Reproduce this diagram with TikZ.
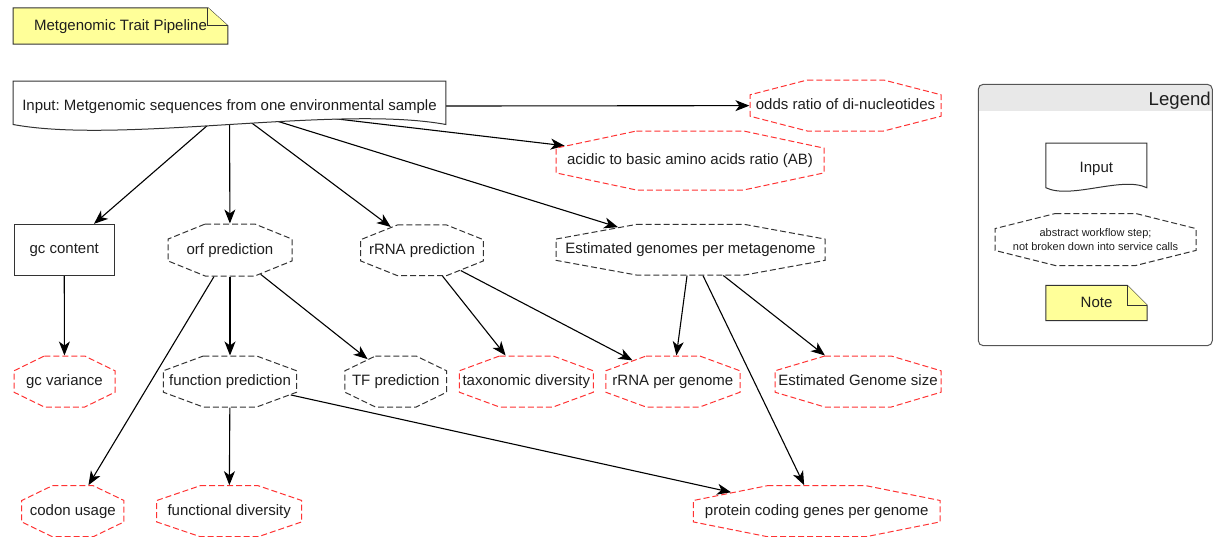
\documentclass[tikz,border=0pt]{standalone}
\usepackage{fontspec}
\setmainfont{Liberation Sans}
\usetikzlibrary{arrows.meta,calc,backgrounds}

\definecolor{outred}{RGB}{255,51,51}
\definecolor{stepgray}{RGB}{51,51,51}
\definecolor{notefill}{RGB}{255,255,153}
\definecolor{legendhead}{RGB}{232,232,232}
\definecolor{legendline}{RGB}{85,85,85}
\definecolor{textdark}{RGB}{30,30,30}

% Octagon node whose corners are cut by 30% of the width and 29% of the height
\makeatletter
\pgfdeclareshape{octbox}{%
  \inheritsavedanchors[from=rectangle]%
  \inheritanchor[from=rectangle]{center}%
  \inheritanchor[from=rectangle]{north}%
  \inheritanchor[from=rectangle]{south}%
  \inheritanchor[from=rectangle]{east}%
  \inheritanchor[from=rectangle]{west}%
  \inheritanchor[from=rectangle]{north east}%
  \inheritanchor[from=rectangle]{north west}%
  \inheritanchor[from=rectangle]{south east}%
  \inheritanchor[from=rectangle]{south west}%
  \inheritanchor[from=rectangle]{base}%
  \backgroundpath{%
    \southwest \pgf@xa=\pgf@x \pgf@ya=\pgf@y
    \northeast \pgf@xb=\pgf@x \pgf@yb=\pgf@y
    \pgfmathsetlength\pgf@xc{\pgfkeysvalueof{/pgf/outer xsep}}%
    \pgfmathsetlength\pgf@yc{\pgfkeysvalueof{/pgf/outer ysep}}%
    \advance\pgf@xa by\pgf@xc \advance\pgf@xb by-\pgf@xc
    \advance\pgf@ya by\pgf@yc \advance\pgf@yb by-\pgf@yc
    \edef\oct@xl{\the\pgf@xa}\edef\oct@xr{\the\pgf@xb}%
    \edef\oct@yl{\the\pgf@ya}\edef\oct@yh{\the\pgf@yb}%
    \pgfmathsetmacro\oct@cx{0.3*(\oct@xr-\oct@xl)}%
    \pgfmathsetmacro\oct@cy{0.29*(\oct@yh-\oct@yl)}%
    \pgfpathmoveto{\pgfpoint{\oct@xl+\oct@cx pt}{\oct@yh}}%
    \pgfpathlineto{\pgfpoint{\oct@xr-\oct@cx pt}{\oct@yh}}%
    \pgfpathlineto{\pgfpoint{\oct@xr}{\oct@yh-\oct@cy pt}}%
    \pgfpathlineto{\pgfpoint{\oct@xr}{\oct@yl+\oct@cy pt}}%
    \pgfpathlineto{\pgfpoint{\oct@xr-\oct@cx pt}{\oct@yl}}%
    \pgfpathlineto{\pgfpoint{\oct@xl+\oct@cx pt}{\oct@yl}}%
    \pgfpathlineto{\pgfpoint{\oct@xl}{\oct@yl+\oct@cy pt}}%
    \pgfpathlineto{\pgfpoint{\oct@xl}{\oct@yh-\oct@cy pt}}%
    \pgfpathclose
  }%
  \anchorborder{%
    \edef\oct@dx{\the\pgf@x}\edef\oct@dy{\the\pgf@y}%
    \southwest \pgf@xa=\pgf@x \pgf@ya=\pgf@y
    \northeast \pgf@xb=\pgf@x \pgf@yb=\pgf@y
    \edef\oct@xl{\the\pgf@xa}\edef\oct@xr{\the\pgf@xb}%
    \edef\oct@yl{\the\pgf@ya}\edef\oct@yh{\the\pgf@yb}%
    \pgfmathsetmacro\oct@a{(\oct@xr-\oct@xl)/2}%
    \pgfmathsetmacro\oct@b{(\oct@yh-\oct@yl)/2}%
    \pgfmathsetmacro\oct@mx{(\oct@xr+\oct@xl)/2}%
    \pgfmathsetmacro\oct@my{(\oct@yh+\oct@yl)/2}%
    \pgfmathsetmacro\oct@cx{0.6*\oct@a}%
    \pgfmathsetmacro\oct@cy{0.58*\oct@b}%
    \pgfmathsetmacro\oct@L{abs(\oct@dx)+abs(\oct@dy)}%
    \ifdim\oct@L pt<0.0001pt
      \edef\oct@px{\oct@mx}\edef\oct@py{\oct@my}%
    \else
      \pgfmathsetmacro\oct@ux{\oct@dx/\oct@L}%
      \pgfmathsetmacro\oct@uy{\oct@dy/\oct@L}%
      \pgfmathsetmacro\oct@s{max(abs(\oct@ux)/\oct@a, abs(\oct@uy)/\oct@b,
        (abs(\oct@ux)/\oct@cx+abs(\oct@uy)/\oct@cy)/(\oct@a/\oct@cx+\oct@b/\oct@cy-1))}%
      \pgfmathsetmacro\oct@px{\oct@mx+\oct@ux/\oct@s}%
      \pgfmathsetmacro\oct@py{\oct@my+\oct@uy/\oct@s}%
    \fi
    \pgf@x=\oct@px pt
    \pgf@y=\oct@py pt
  }%
}
\makeatother

\frenchspacing
\begin{document}
\begin{tikzpicture}[x=1pt,y=-1pt,
  every node/.style={font=\fontsize{15}{18}\selectfont, inner sep=0pt, text=textdark,
    text height=11.5pt, text depth=3pt},
  octo/.style 2 args={shape=octbox, minimum width=#1pt, minimum height=#2pt},
  boxsize/.style 2 args={shape=rectangle, minimum width=#1pt, minimum height=#2pt},
  stepbox/.style={draw=stepgray, line width=1pt, dash pattern=on 6pt off 3pt},
  outbox/.style={draw=outred, line width=1pt, dash pattern=on 6pt off 3pt},
  solidbox/.style={draw=stepgray, line width=1pt},
  notebox/.style={fill=notefill, draw=stepgray, line width=1pt},
  docbox/.style={fill=white, draw=stepgray, line width=1pt},
  flow/.style={draw=black, line width=1.1pt, -{Stealth[length=14pt,width=11pt,inset=4pt]}},
  smalltext/.style={font=\fontsize{11}{14.5}\selectfont, align=center, text height={}, text depth={}},
]
\useasboundingbox (0,0) rectangle (1215,536);

% title note
\node[boxsize={214.4}{36}] (title) at (120.5,26) {Metgenomic Trait Pipeline};

% pipeline nodes
\node[boxsize={432.5}{50}] (input) at (229.5,106.3) {Input: Metgenomic sequences from one environmental sample};
\node[octo={191}{51}, outbox] (odds) at (845.5,105.5) {odds ratio of di-nucleotides};
\node[octo={268}{59}, outbox] (acidic) at (690,160.5) {acidic to basic amino acids ratio (AB)};
\node[boxsize={100.3}{50.7}, solidbox] (gccont) at (64.2,249.7) {gc content};
\node[octo={124}{52}, stepbox] (orf) at (230,250) {orf prediction};
\node[octo={122.6}{50.7}, stepbox] (rrnap) at (422,250.3) {rRNA prediction};
\node[octo={269}{50.7}, stepbox] (estg) at (690.5,249.7) {Estimated genomes per metagenome};
\node[octo={101}{51}, outbox] (gcvar) at (64.5,381.5) {gc variance};
\node[octo={133.4}{51}, stepbox] (funcp) at (230,381.5) {function prediction};
\node[octo={101.7}{51}, stepbox] (tfp) at (395.8,381.5) {TF prediction};
\node[octo={134}{51}, outbox] (taxd) at (526.3,381.5) {taxonomic diversity};
\node[octo={134.3}{51}, outbox] (rrnag) at (672.9,381.5) {rRNA per genome};
\node[octo={166}{51}, outbox] (egs) at (858,381.5) {Estimated Genome size};
\node[octo={102.3}{51}, outbox] (codon) at (72.8,511.2) {codon usage};
\node[octo={145}{51}, outbox] (funcd) at (229.2,511.2) {functional diversity};
\node[octo={246.7}{51}, outbox] (protein) at (816.7,511.2) {protein coding genes per genome};

% legend
\node[draw=legendline, line width=1pt, rounded corners=5pt, boxsize={234}{261.4}] (legend) at (1095.3,215) {};
\node[anchor=east, font=\fontsize{18.6}{22}\selectfont, text height=14pt, text depth=4pt] (legendtitle) at (1211,100.7) {Legend};
\node[boxsize={100.7}{50.7}] (legin) at (1096.4,168.7) {Input};
\node[octo={201}{52}, stepbox, smalltext] (legstep) at (1095.5,239.5) {abstract workflow step;\\not broken down into service calls};
\node[boxsize={101}{35}] (legnote) at (1096.5,303) {Note};

\begin{pgfonlayer}{background}
  % legend header band
  \begin{scope}
    \clip[rounded corners=5pt] (legend.north west) rectangle (legend.south east);
    \fill[legendhead] (legend.north west) rectangle ($(legend.north east)+(0,27.4)$);
  \end{scope}

  % note shapes with folded corner
  \path[notebox] (title.north west) -- ($(title.north east)+(-20,0)$) -- ($(title.north east)+(0,18)$)
    -- (title.south east) -- (title.south west) -- cycle;
  \path[notebox] ($(title.north east)+(-20,0)$) -- ($(title.north east)+(-20,18)$) -- ($(title.north east)+(0,18)$);
  \path[notebox] (legnote.north west) -- ($(legnote.north east)+(-20,0)$) -- ($(legnote.north east)+(0,20)$)
    -- (legnote.south east) -- (legnote.south west) -- cycle;
  \path[notebox] ($(legnote.north east)+(-20,0)$) -- ($(legnote.north east)+(-20,20)$) -- ($(legnote.north east)+(0,20)$);

  % connectors
  \draw[flow] (input.center) -- (odds);
  \draw[flow] (input.center) -- (acidic);
  \draw[flow] (input.center) -- (gccont);
  \draw[flow] (input.center) -- (orf);
  \draw[flow] (input.center) -- (rrnap);
  \draw[flow] (input.center) -- (estg);
  \draw[flow] (gccont) -- (gcvar);
  \draw[flow] (orf) -- (funcp);
  \draw[flow] (orf) -- (codon);
  \draw[flow] (orf) -- (tfp);
  \draw[flow] (rrnap) -- (taxd);
  \draw[flow] (rrnap) -- (rrnag);
  \draw[flow] (estg) -- (rrnag);
  \draw[flow] (estg) -- (protein);
  \draw[flow] (estg) -- (egs);
  \draw[flow] (funcp) -- (funcd);
  \draw[flow] (funcp) -- (protein);

  % document shapes with wavy bottom edge
  \path[docbox] (input.north west) -- (input.north east) -- ($(input.south east)+(0,-7)$)
    .. controls ($(input.south east)+(-108,-27)$) and ($(input.south west)+(108,13)$) .. ($(input.south west)+(0,-7)$) -- cycle;
  \path[docbox] (legin.north west) -- (legin.north east) -- ($(legin.south east)+(0,-6.5)$)
    .. controls ($(legin.south east)+(-25,-18.5)$) and ($(legin.south west)+(25,5.5)$) .. ($(legin.south west)+(0,-6.5)$) -- cycle;
\end{pgfonlayer}
\end{tikzpicture}
\end{document}
